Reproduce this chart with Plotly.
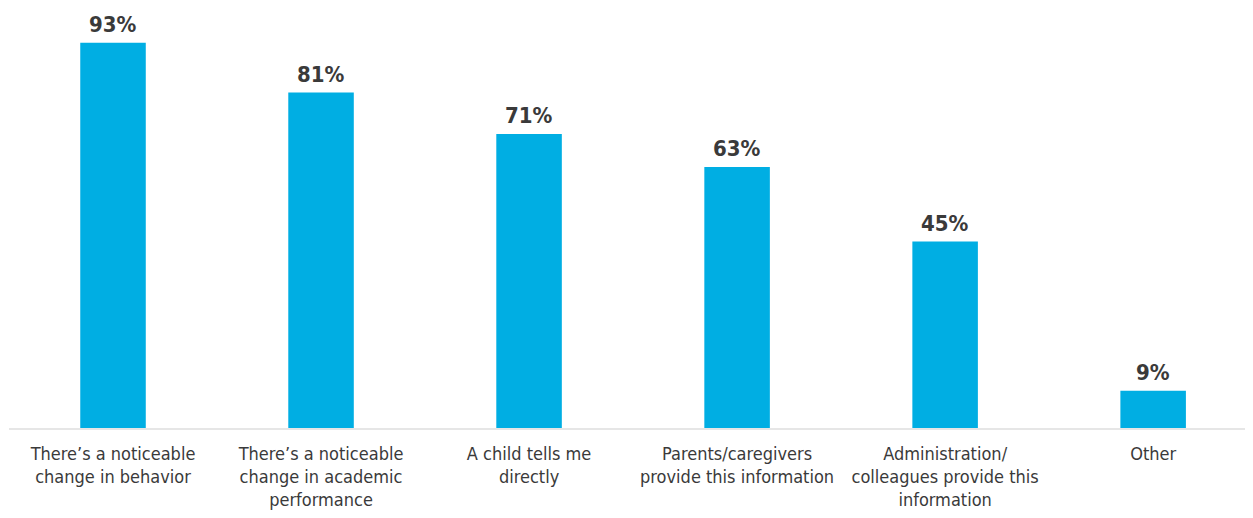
import plotly.graph_objects as go

# Survey answers: how teachers learn a child may need support
categories = [
    "There’s a noticeable<br>change in behavior",
    "There’s a noticeable<br>change in academic<br>performance",
    "A child tells me<br>directly",
    "Parents/caregivers<br>provide this information",
    "Administration/<br>colleagues provide this<br>information",
    "Other",
]
values = [93, 81, 71, 63, 45, 9]
value_labels = ["93%", "81%", "71%", "63%", "45%", "9%"]

font_family = "Liberation Sans Narrow, DejaVu Sans Condensed, Arial Narrow, sans-serif"
text_color = "#3a3a3a"

positions = list(range(len(categories)))

fig = go.Figure(
    go.Bar(
        x=positions,
        y=values,
        marker=dict(color="#00aee3", line=dict(width=0)),
        width=0.315,
        hoverinfo="skip",
    )
)

# Value labels above each bar
for pos, val, lab in zip(positions, values, value_labels):
    fig.add_annotation(
        x=pos, y=val, text="<b>%s</b>" % lab,
        showarrow=False, yanchor="bottom", yshift=4,
        font=dict(family=font_family, size=22, color=text_color),
    )

# page body has an 8px margin, so the figure is 8px smaller each way
fig.update_layout(
    width=1245,
    height=510,
    margin=dict(l=1, r=0, t=0, b=90),
    paper_bgcolor="white",
    plot_bgcolor="white",
    showlegend=False,
    font=dict(family=font_family, color=text_color),
)

fig.update_xaxes(
    tickmode="array",
    tickvals=positions,
    ticktext=categories,
    tickfont=dict(family=font_family, size=18, color=text_color),
    tickangle=0,
    automargin=False,
    range=[-0.5, 5.48],
    showline=True,
    linecolor="#e6e6e6",
    linewidth=2,
    showgrid=False,
    ticks="",
    ticklabelstandoff=8,
)

fig.update_yaxes(
    range=[0, 101.4],
    visible=False,
    showgrid=False,
    zeroline=False,
    automargin=False,
)

fig.write_html("out.html")
